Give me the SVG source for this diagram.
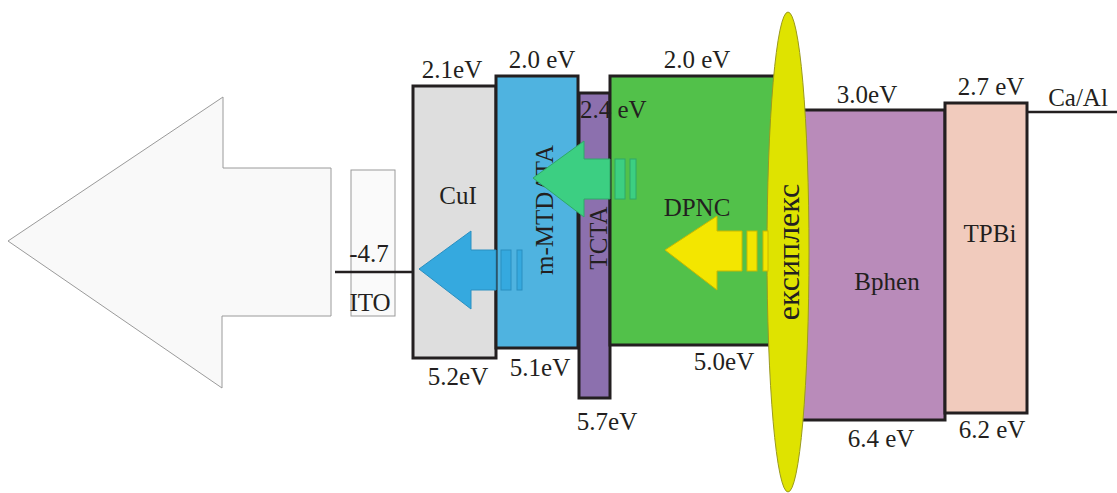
<svg xmlns="http://www.w3.org/2000/svg" width="1117" height="493" viewBox="0 0 1117 493">
<style>
text{font-family:"Liberation Serif","Times New Roman","DejaVu Serif",serif;font-size:25px;fill:#231f20;text-anchor:middle}
.box{stroke:#231f20;stroke-width:3}
.ln{stroke:#231f20;stroke-width:2.5;fill:none}
</style>
<rect width="1117" height="493" fill="#ffffff"/>
<g id="big-arrow">
<polygon points="8,241 223,97 223,168 331,168 331,316 222,316 222,388" fill="#f9f9f9" stroke="#9a9a9a" stroke-width="1"/>
</g>
<g id="ITO">
<rect x="351" y="170" width="44" height="146" fill="#fafafa" stroke="#9a9a9a" stroke-width="1"/>
<text x="369" y="262">-4.7</text>
<text x="370" y="311">ITO</text>
</g>
<g id="connectors">
<line class="ln" x1="335" y1="272" x2="413" y2="272"/>
<line class="ln" x1="1027" y1="112" x2="1117" y2="112"/>
</g>
<g id="CuI">
<rect class="box" x="413" y="86" width="83" height="272" fill="#dedede"/>
<text x="458" y="204">CuI</text>
<text x="452" y="78">2.1eV</text>
<text x="458" y="385">5.2eV</text>
</g>
<g id="m-MTDATA">
<rect class="box" x="496" y="76" width="82" height="272" fill="#4fb3e0"/>
<text transform="translate(553,210) rotate(-90)">m-MTDATA</text>
<text x="542" y="68">2.0 eV</text>
<text x="540" y="376">5.1eV</text>
</g>
<g id="TCTA">
<rect class="box" x="579" y="93" width="31" height="305" fill="#8c70ae"/>
<text transform="translate(607,238) rotate(-90)">TCTA</text>
<text x="607" y="430">5.7eV</text>
</g>
<g id="DPNC">
<rect class="box" x="610" y="76" width="178" height="269" fill="#52c14a"/>
<text x="697" y="216">DPNC</text>
<text x="697" y="68">2.0 eV</text>
<text x="724" y="370">5.0eV</text>
</g>
<text x="580" y="118" style="text-anchor:start">2.4 eV</text>
<g id="Bphen">
<rect class="box" x="788" y="110" width="157" height="310" fill="#b98bba"/>
<text x="887" y="290">Bphen</text>
<text x="867" y="103">3.0eV</text>
<text x="881" y="447">6.4 eV</text>
</g>
<g id="TPBi">
<rect class="box" x="945" y="103" width="82" height="310" fill="#f1cbbd"/>
<text x="990" y="242">TPBi</text>
<text x="991" y="95">2.7 eV</text>
<text x="992" y="438">6.2 eV</text>
<text x="1078" y="106">Ca/Al</text>
</g>
<g id="blue-arrow" fill="#35a9df" stroke="#2a8fc0" stroke-width="1">
<polygon points="419,269 471,231 471,250 496,250 496,290 471,290 471,309"/>
<rect x="501" y="250" width="10" height="40"/>
<rect x="517" y="250" width="5" height="40"/>
</g>
<g id="green-arrow" fill="#3ccf82" stroke="#2fa868" stroke-width="1">
<polygon points="533,178 584,141 584,159 610,159 610,199 584,199 584,217"/>
<rect x="615" y="159" width="10" height="40"/>
<rect x="630" y="159" width="6" height="40"/>
</g>
<g id="exciplex">
<ellipse cx="788" cy="252" rx="21" ry="240" fill="#dfe300" stroke="#9a9a20" stroke-width="1"/>
</g>
<g id="yellow-arrow" fill="#f3e600" stroke="#c8b800" stroke-width="1">
<polygon points="665,250 717,216 717,231 742,231 742,271 717,271 717,290"/>
<rect x="747" y="231" width="10" height="40"/>
<rect x="763" y="231" width="5" height="40"/>
</g>
<text transform="translate(799,252) rotate(-90)" style="font-size:32px">ексиплекс</text>
</svg>
